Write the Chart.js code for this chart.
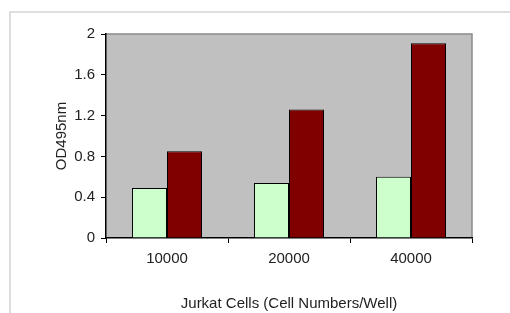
<!DOCTYPE html>
<html>
<head>
<meta charset="utf-8">
<script src="https://cdn.jsdelivr.net/npm/chart.js@4"></script>
<style>
  html, body { margin: 0; padding: 0; background: #fff; }
  #wrap { position: relative; width: 510px; height: 313px; }
  #frame { position: absolute; left: 9px; top: 11px; right: 0; bottom: 0;
           border-top: 2px solid #dedede; border-left: 2px solid #dedede; }
  canvas { position: absolute; left: 0; top: 0; }
</style>
</head>
<body>
<div id="wrap">
  <div id="frame"></div>
  <canvas id="myChart" width="510" height="313"></canvas>
</div>
<script>
const cellCounts = ['10000', '20000', '40000']
const controlOD = [0.49, 0.54, 0.60]
const treatedOD = [0.85, 1.26, 1.91]
const yTicks = [0, 0.4, 0.8, 1.2, 1.6, 2]

const tickFont = { family: 'Liberation Sans, Arial, sans-serif', size: 15 }

// grey plot area with a thin grey edge on top and right
const plotBg = {
  id: 'plotBg',
  beforeDraw(chart) {
    const { ctx, chartArea: a } = chart
    ctx.save()
    ctx.fillStyle = '#c0c0c0'
    ctx.fillRect(a.left, a.top, a.right - a.left, a.bottom - a.top)
    ctx.strokeStyle = '#8a8a8a'
    ctx.lineWidth = 1.5
    ctx.beginPath()
    ctx.moveTo(a.left, a.top)
    ctx.lineTo(a.right, a.top)
    ctx.lineTo(a.right, a.bottom)
    ctx.stroke()
    ctx.restore()
  }
}

const data = {
  labels: cellCounts,
  datasets: [
    {
      data: controlOD,
      backgroundColor: '#ccffcc',
      borderColor: '#000',
      borderWidth: 1,
      borderSkipped: 'bottom',
      categoryPercentage: 0.574,
      barPercentage: 1
    },
    {
      data: treatedOD,
      backgroundColor: '#800000',
      borderColor: '#000',
      borderWidth: 1,
      borderSkipped: 'bottom',
      categoryPercentage: 0.574,
      barPercentage: 1
    }
  ]
}

const config = {
  type: 'bar',
  data,
  plugins: [plotBg],
  options: {
    responsive: false,
    animation: false,
    layout: { padding: { left: 53, right: 38, top: 34, bottom: 0 } },
    scales: {
      x: {
        grid: {
          offset: true,
          drawOnChartArea: false,
          drawTicks: true,
          tickLength: 5,
          color: '#000'
        },
        border: { color: '#000', width: 1.5 },
        ticks: { color: '#222', font: tickFont, padding: 7 },
        title: {
          display: true,
          text: 'Jurkat Cells (Cell Numbers/Well)',
          color: '#222',
          font: tickFont,
          padding: { top: 22, bottom: 0 }
        },
        afterFit: s => { s.height = 75 }
      },
      y: {
        min: 0,
        max: 2,
        afterBuildTicks: s => { s.ticks = yTicks.map(v => ({ value: v })) },
        grid: {
          drawOnChartArea: false,
          drawTicks: true,
          tickLength: 5,
          color: '#000'
        },
        border: { color: '#000', width: 1.5 },
        ticks: {
          color: '#222',
          font: tickFont,
          padding: 6,
          callback: v => String(v)
        },
        title: {
          display: true,
          text: 'OD495nm',
          color: '#222',
          font: tickFont,
          padding: { top: 0, bottom: 6 }
        },
        afterFit: s => { s.width = 53 }
      }
    },
    plugins: {
      legend: { display: false },
      tooltip: { enabled: false }
    }
  }
}

const myChart = new Chart(document.getElementById('myChart'), config)
</script>
</body>
</html>
